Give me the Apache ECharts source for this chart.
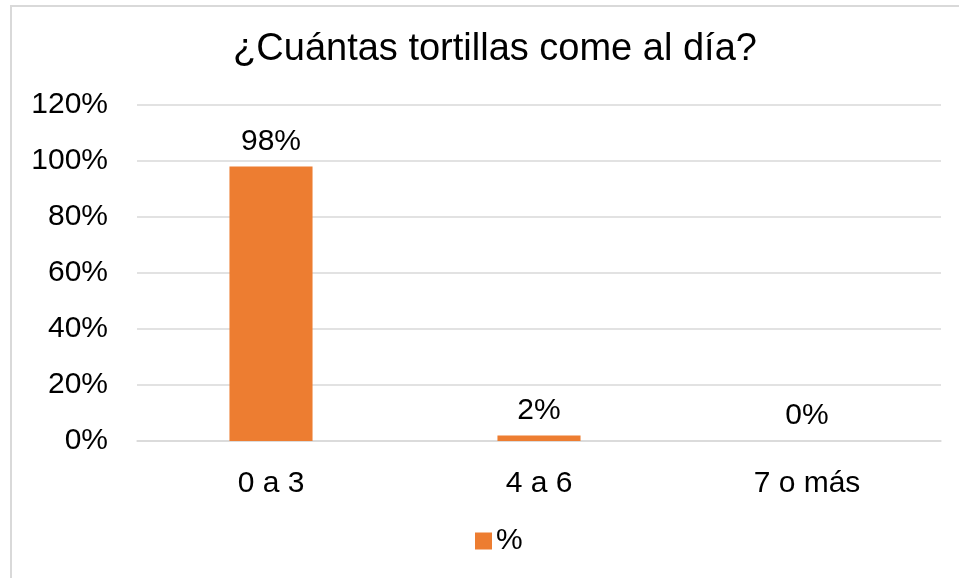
<!DOCTYPE html>
<html>
<head>
<meta charset="utf-8">
<script src="https://cdn.jsdelivr.net/npm/echarts@6/dist/echarts.min.js"></script>
<style>
  html, body { margin: 0; padding: 0; background: #fff; }
  #chart { width: 959px; height: 578px; }
</style>
</head>
<body>
<div id="chart"></div>
<script>
// Tortillas eaten per day: share of respondents
const titleText = '¿Cuántas tortillas come al día?';
const categories = ['0 a 3', '4 a 6', '7 o más'];
const seriesName = '%';
const shares = [98, 2, 0];

const FONT = '"Liberation Sans", Arial, sans-serif';
const chart = echarts.init(document.getElementById('chart'), null, { renderer: 'canvas' });

chart.setOption({
  animation: false,
  backgroundColor: '#ffffff',
  textStyle: { fontFamily: FONT },
  graphic: [{
    type: 'rect',
    silent: true,
    shape: { x: 11, y: 6, width: 1200, height: 1200 },
    style: { fill: 'none', stroke: '#d9d9d9', lineWidth: 2 }
  }],
  title: {
    text: titleText,
    left: 490,
    textAlign: 'center',
    top: 26,
    textStyle: { fontFamily: FONT, fontSize: 38, fontWeight: 'normal', color: '#000000' }
  },
  legend: {
    data: [seriesName],
    left: 470,
    top: 521,
    itemWidth: 17,
    itemHeight: 17,
    itemGap: 0,
    icon: 'rect',
    textStyle: { fontFamily: FONT, fontSize: 30, color: '#000000', padding: [0, 0, 0, -1] }
  },
  grid: { left: 137, right: 18, top: 105, bottom: 137, containLabel: false },
  xAxis: {
    type: 'category',
    data: categories,
    axisLine: { show: true, lineStyle: { color: '#d9d9d9', width: 1.5 } },
    axisTick: { show: false },
    axisLabel: { fontFamily: FONT, fontSize: 30, color: '#000000', margin: 28 }
  },
  yAxis: {
    type: 'value',
    min: 0,
    max: 120,
    interval: 20,
    axisLine: { show: false },
    axisTick: { show: false },
    splitLine: { lineStyle: { color: '#d9d9d9', width: 1.5 } },
    axisLabel: {
      fontFamily: FONT, fontSize: 30, color: '#000000', margin: 29,
      formatter: v => v + '%'
    }
  },
  series: [{
    name: seriesName,
    type: 'bar',
    data: shares,
    barWidth: '31%',
    itemStyle: { color: '#ED7D31' },
    label: {
      show: true,
      position: 'top',
      distance: 10,
      fontFamily: FONT,
      fontSize: 30,
      color: '#000000',
      formatter: p => p.value + '%'
    }
  }]
});
</script>
</body>
</html>
